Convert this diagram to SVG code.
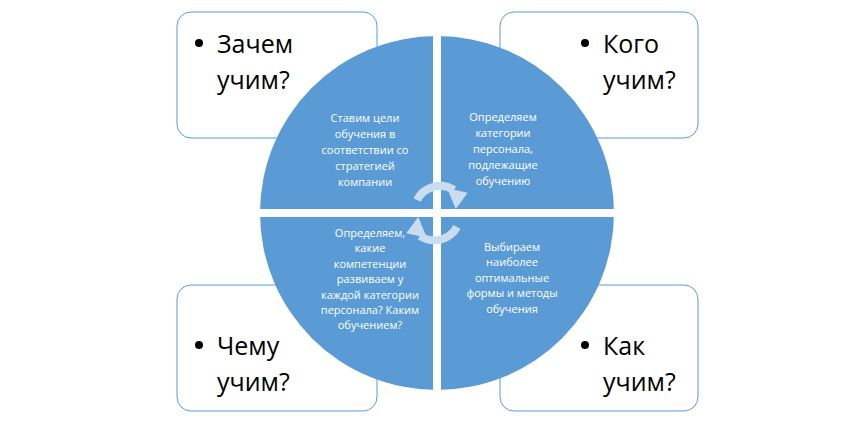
<svg xmlns="http://www.w3.org/2000/svg" width="860" height="427" viewBox="0 0 860 427">
<style>
.box{fill:#fff;stroke:#5B9BD5;stroke-width:1}
.big{font-family:"Open Sans","Liberation Sans",sans-serif;font-size:25px;fill:#000}
.sm{font-family:"Open Sans","Liberation Sans",sans-serif;font-size:11px;fill:#fff;text-anchor:middle}
.arc{fill:none;stroke:#C9DCF0;stroke-width:8}
</style>
<rect width="860" height="427" fill="#fff"/>
<g id="box-why"><rect class="box" x="177" y="12" width="200" height="126" rx="14"/><circle cx="199" cy="43" r="4"/><text class="big" x="217" y="53">Зачем</text><text class="big" x="217" y="89">учим?</text></g>
<g id="box-whom"><rect class="box" x="500" y="12" width="198" height="126" rx="14"/><circle cx="585" cy="43" r="4"/><text class="big" x="603" y="53">Кого</text><text class="big" x="603" y="89">учим?</text></g>
<g id="box-what"><rect class="box" x="177" y="285" width="200" height="126" rx="14"/><circle cx="199" cy="345" r="4"/><text class="big" x="217" y="355">Чему</text><text class="big" x="217" y="391">учим?</text></g>
<g id="box-how"><rect class="box" x="500" y="285" width="198" height="126" rx="14"/><circle cx="585" cy="345" r="4"/><text class="big" x="603" y="355">Как</text><text class="big" x="603" y="391">учим?</text></g>
<g id="circle">
<circle cx="437" cy="213" r="177" fill="#5B9BD5"/>
<rect x="433" y="30" width="8" height="370" fill="#fff"/>
<rect x="255" y="209" width="365" height="8" fill="#fff"/>
</g>
<g id="q1"><text class="sm" x="365" y="122">Ставим цели</text><text class="sm" x="365" y="138">обучения в</text><text class="sm" x="365" y="154">соответствии со</text><text class="sm" x="365" y="170">стратегией</text><text class="sm" x="365" y="186">компании</text></g>
<g id="q2"><text class="sm" x="503" y="121">Определяем</text><text class="sm" x="503" y="137">категории</text><text class="sm" x="503" y="153">персонала,</text><text class="sm" x="503" y="169">подлежащие</text><text class="sm" x="503" y="185">обучению</text></g>
<g id="q3"><text class="sm" x="370" y="237">Определяем,</text><text class="sm" x="370" y="252">какие</text><text class="sm" x="370" y="268">компетенции</text><text class="sm" x="370" y="283">развиваем у</text><text class="sm" x="370" y="299">каждой категории</text><text class="sm" x="370" y="314">персонала? Каким</text><text class="sm" x="370" y="329">обучением?</text></g>
<g id="q4"><text class="sm" x="512" y="251">Выбираем</text><text class="sm" x="512" y="266">наиболее</text><text class="sm" x="512" y="282">оптимальные</text><text class="sm" x="512" y="297">формы и методы</text><text class="sm" x="512" y="313">обучения</text></g>
<g id="connectors">
<path class="arc" d="M417 200 A26 26 0 0 1 454 190"/>
<polygon points="446,190 467,191 458,209" fill="#C9DCF0" transform="rotate(10 457 196)"/>
<path class="arc" d="M457 227 A26 26 0 0 1 420 236"/>
<polygon points="428,236 407,235 416,217" fill="#C9DCF0" transform="rotate(10 417 230)"/>
</g>
</svg>
